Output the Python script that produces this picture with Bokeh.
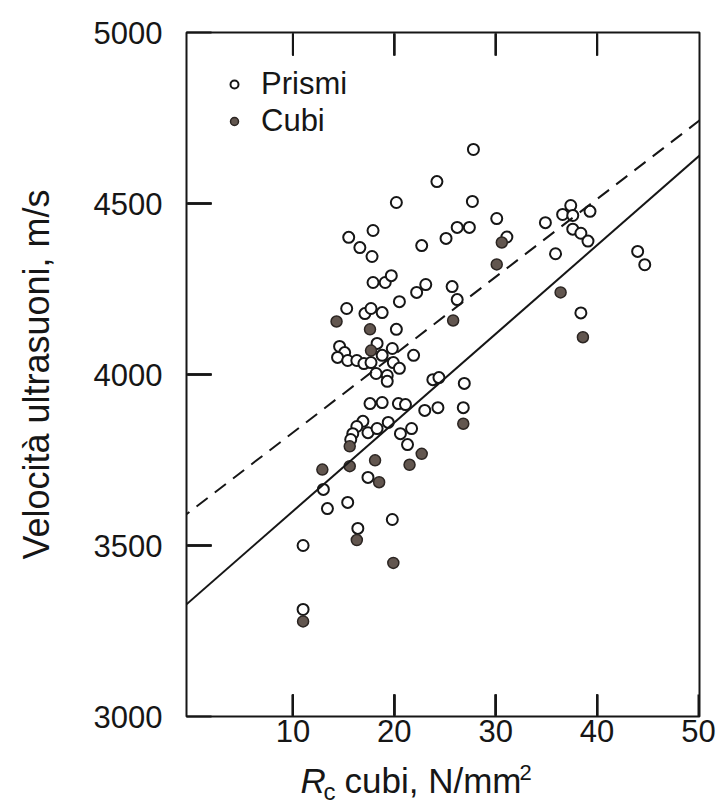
from bokeh.plotting import figure
from bokeh.layouts import column
from bokeh.models import (Range1d, FixedTicker, Slope, Label, Legend,
                          LegendItem, BoxAnnotation, Arrow)
from bokeh.embed import file_html
from bokeh.resources import INLINE

# ---- data ----
prismi_x = [27.8, 24.2, 20.2, 27.7, 30.1, 26.2, 27.4, 25.1, 22.7, 17.9,
            15.5, 16.6, 17.8, 17.9, 19.1, 19.7, 20.5, 22.2, 23.1, 25.7,
            26.2, 15.3, 17.1, 17.7, 18.8, 20.2, 14.6, 15.1, 14.4, 15.4,
            16.3, 17.0, 18.3, 17.7, 18.8, 19.8, 19.9, 20.5, 21.9, 18.2,
            19.3, 19.3, 23.8, 24.4, 26.9, 17.6, 18.8, 20.4, 21.1, 23.0,
            24.3, 26.8, 16.9, 16.3, 17.4, 18.3, 19.4, 21.7, 20.6, 21.3,
            15.9, 15.7, 17.4, 13.0, 15.4, 13.4, 19.8, 16.4, 11.0, 11.0,
            37.4, 36.6, 37.6, 39.3, 34.9, 31.1, 37.6, 38.4, 39.1, 35.9,
            38.4, 44.0, 44.7]
prismi_y = [4658, 4564, 4503, 4506, 4456, 4430, 4430, 4398, 4377, 4421,
            4401, 4371, 4345, 4269, 4269, 4289, 4213, 4240, 4263, 4257,
            4219, 4193, 4178, 4193, 4181, 4132, 4082, 4064, 4050, 4041,
            4041, 4032, 4091, 4035, 4056, 4076, 4035, 4018, 4056, 4003,
            3997, 3980, 3985, 3991, 3974, 3915, 3918, 3915, 3912, 3895,
            3903, 3903, 3863, 3848, 3830, 3842, 3860, 3842, 3827, 3795,
            3827, 3810, 3699, 3664, 3626, 3608, 3576, 3550, 3500, 3313,
            4494, 4468, 4465, 4477, 4444, 4402, 4425, 4413, 4390, 4353,
            4180, 4360, 4321]
cubi_x = [30.6, 30.1, 36.4, 38.6, 25.8, 14.3, 17.6, 17.7, 26.8, 15.6,
          15.6, 12.9, 18.1, 22.7, 21.5, 18.5, 16.3, 19.9, 11.0]
cubi_y = [4386, 4322, 4240, 4109, 4158, 4155, 4132, 4070, 3856, 3790,
          3732, 3722, 3749, 3768, 3736, 3685, 3516, 3449, 3278]

# regression lines: gradient (m/s per N/mm2) and intercept at Rc = 0
prismi_fit = (22.75, 3603)   # dashed
cubi_fit = (25.93, 3341)     # solid

x_ticks = [10, 20, 30, 40, 50]
x_inner_ticks = [10, 20, 30, 40]
y_ticks = [3000, 3500, 4000, 4500, 5000]
y_inner_ticks = [3500, 4000, 4500]
x_lo, x_hi = -0.5, 50.1
y_lo, y_hi = 3000, 5000

FONT = "Liberation Sans"
INK = "#161616"
FS = "31px"

# layout (pixels)
W, H = 720, 758
BL, BT, BR = 186, 32, 21
FRAME_W, FRAME_H = W - BL - BR, 684
TICK_Y_PX, TICK_B_PX, TICK_T_PX = 25, 22, 23
GAP = 1   # ticks start just inside the frame outline

p = figure(width=W, height=H,
           x_range=Range1d(x_lo, x_hi), y_range=Range1d(y_lo, y_hi),
           output_backend="svg", toolbar_location=None,
           min_border_left=BL, min_border_top=BT,
           min_border_right=BR, min_border_bottom=H - BT - FRAME_H)
p.grid.visible = False
p.background_fill_color = "white"
p.border_fill_color = "white"
p.outline_line_color = INK
p.outline_line_width = 2

xa = p.xaxis[0]
xa.ticker = FixedTicker(ticks=x_ticks)
xa.major_tick_in = TICK_B_PX
xa.major_tick_out = 0
xa.major_tick_line_color = INK
xa.major_tick_line_width = 2
xa.minor_tick_line_color = None
xa.axis_line_color = None
xa.major_label_text_font = FONT
xa.major_label_text_font_size = FS
xa.major_label_text_color = INK
xa.major_label_standoff = 3

ya = p.yaxis[0]
ya.ticker = FixedTicker(ticks=y_ticks)
ya.major_tick_in = TICK_Y_PX
ya.major_tick_out = 0
ya.major_tick_line_color = INK
ya.major_tick_line_width = 2
ya.minor_tick_line_color = None
ya.axis_line_color = None
ya.major_label_text_font = FONT
ya.major_label_text_font_size = FS
ya.major_label_text_color = INK
ya.major_label_standoff = 24
ya.axis_label = "Velocità ultrasuoni, m/s"
ya.axis_label_text_font = FONT
ya.axis_label_text_font_size = "36px"
ya.axis_label_text_font_style = "normal"
ya.axis_label_text_color = INK
ya.axis_label_standoff = 34

# inward tick marks, built from the tick arrays
ux = (x_hi - x_lo) / FRAME_W      # data units per pixel, x
uy = (y_hi - y_lo) / FRAME_H      # data units per pixel, y
for yt in y_inner_ticks:
    p.add_layout(Arrow(end=None, start=None,
                       x_start=x_lo + GAP * ux, y_start=yt,
                       x_end=x_lo + TICK_Y_PX * ux, y_end=yt,
                       line_color=INK, line_width=2))
    p.add_layout(BoxAnnotation(left=x_lo + GAP * ux,
                               right=x_lo + TICK_Y_PX * ux,
                               bottom=yt - uy, top=yt + uy,
                               fill_color=INK, fill_alpha=1.0,
                               line_color=None))
for xt in x_inner_ticks:
    p.add_layout(Arrow(end=None, start=None,
                       x_start=xt, y_start=y_lo + GAP * uy,
                       x_end=xt, y_end=y_lo + TICK_B_PX * uy,
                       line_color=INK, line_width=2))
    p.add_layout(Arrow(end=None, start=None,
                       x_start=xt, y_start=y_hi - TICK_T_PX * uy,
                       x_end=xt, y_end=y_hi - GAP * uy,
                       line_color=INK, line_width=2))
    p.add_layout(BoxAnnotation(left=xt - ux, right=xt + ux,
                               bottom=y_lo + GAP * uy,
                               top=y_lo + TICK_B_PX * uy,
                               fill_color=INK, fill_alpha=1.0,
                               line_color=None))
    p.add_layout(BoxAnnotation(left=xt - ux, right=xt + ux,
                               bottom=y_hi - TICK_T_PX * uy,
                               top=y_hi - GAP * uy,
                               fill_color=INK, fill_alpha=1.0,
                               line_color=None))
p.multi_line(xs=[[x_lo + GAP * ux, x_lo + TICK_Y_PX * ux]
                 for _ in y_inner_ticks],
             ys=[[yt, yt] for yt in y_inner_ticks],
             line_color=INK, line_width=2)
p.multi_line(xs=[[xt, xt] for xt in x_inner_ticks],
             ys=[[y_lo + GAP * uy, y_lo + TICK_B_PX * uy]
                 for _ in x_inner_ticks],
             line_color=INK, line_width=2)
p.multi_line(xs=[[xt, xt] for xt in x_inner_ticks],
             ys=[[y_hi - TICK_T_PX * uy, y_hi - GAP * uy]
                 for _ in x_inner_ticks],
             line_color=INK, line_width=2)

# regression lines
p.add_layout(Slope(gradient=prismi_fit[0], y_intercept=prismi_fit[1],
                   line_color=INK, line_width=2, line_dash="14 9"))
p.add_layout(Slope(gradient=cubi_fit[0], y_intercept=cubi_fit[1],
                   line_color=INK, line_width=2))

r_p = p.scatter(prismi_x, prismi_y, marker="circle", size=11,
                fill_color="white", line_color=INK, line_width=2)
r_c = p.scatter(cubi_x, cubi_y, marker="circle", size=11,
                fill_color="#62564f", line_color="#2b2522", line_width=1.5)

legend = Legend(items=[LegendItem(label="Prismi", renderers=[r_p]),
                       LegendItem(label="Cubi", renderers=[r_c])],
                location="top_left", margin=34, padding=0,
                glyph_width=28, glyph_height=20, label_height=36,
                label_standoff=13, spacing=1,
                label_text_font=FONT, label_text_font_size=FS,
                label_text_color=INK,
                border_line_color=None, background_fill_alpha=0)
p.add_layout(legend)

# x-axis title in a strip below: italic R, subscript c, superscript 2
# (screen x is measured from the frame's left edge, which the column aligns)
TH = 46
TOP = 780 - H    # centre line of the title, px below the strip's top
t = figure(width=W, height=TH, x_range=Range1d(0, 1),
           y_range=Range1d(0, 1), x_axis_type=None, y_axis_type=None,
           output_backend="svg", toolbar_location=None, min_border=0)
t.grid.visible = False
t.outline_line_color = None
t.background_fill_color = "white"
t.border_fill_color = "white"
t.add_layout(Label(x=114, y=TH - TOP, x_units="screen", y_units="screen",
                   text="R", text_font=FONT, text_font_style="italic",
                   text_font_size="35px", text_color=INK,
                   text_baseline="middle"))
t.add_layout(Label(x=137, y=TH - TOP - 11, x_units="screen",
                   y_units="screen", text="c", text_font=FONT,
                   text_font_size="24px", text_color=INK,
                   text_baseline="middle"))
t.add_layout(Label(x=158, y=TH - TOP, x_units="screen", y_units="screen",
                   text="cubi, N/mm", text_font=FONT,
                   text_font_size="35px", text_color=INK,
                   text_baseline="middle"))
t.add_layout(Label(x=333, y=TH - TOP + 8, x_units="screen",
                   y_units="screen", text="2", text_font=FONT,
                   text_font_size="22px", text_color=INK,
                   text_baseline="middle"))

open("out.html", "w").write(file_html(column(p, t, spacing=0), INLINE))
